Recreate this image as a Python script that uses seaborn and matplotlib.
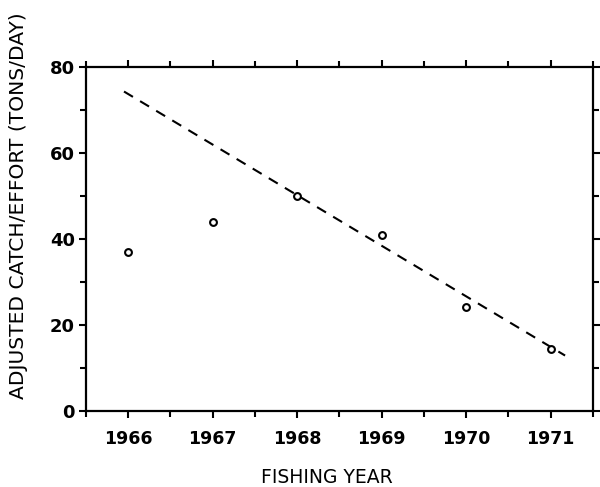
import matplotlib
matplotlib.use("Agg")
import matplotlib.pyplot as plt
import seaborn as sns
import pandas as pd
from matplotlib.ticker import MultipleLocator

years = [1966, 1967, 1968, 1969, 1970, 1971]
catch_effort = [37, 44, 50, 41, 24.3, 14.5]
trend_years = [1965.95, 1971.17]
trend_values = [74.3, 12.9]
year_labels = ["1966", "1967", "1968", "1969", "1970", "1971"]

sns.set_style("ticks")
plt.rcParams['font.family'] = ['DejaVu Sans']

df = pd.DataFrame({"year": years, "ce": catch_effort})
tr = pd.DataFrame({"year": trend_years, "ce": trend_values})

fig = plt.figure(figsize=(6, 4.87), dpi=100)
ax = fig.add_axes([0.1433, 0.156, 0.845, 0.7064])

sns.lineplot(data=tr, x="year", y="ce", ax=ax, color="black", lw=1.5,
             linestyle=(0, (5, 4)))
sns.scatterplot(data=df, x="year", y="ce", ax=ax, marker="o", s=24,
                facecolor="white", edgecolor="black", linewidth=1.5, zorder=3)

ax.set_xlim(1965.5, 1971.5)
ax.set_ylim(0, 80)
ax.set_xticks(years)
ax.set_xticklabels(year_labels)
ax.xaxis.set_minor_locator(MultipleLocator(0.5))
ax.set_yticks([0, 20, 40, 60, 80])
ax.yaxis.set_minor_locator(MultipleLocator(10))

for s in ax.spines.values():
    s.set_linewidth(1.6)
    s.set_color("black")

ax.tick_params(which="both", direction="out", width=1.5, colors="black",
               top=True, right=True, labelsize=13)
ax.tick_params(axis="x", labelsize=12.5)
ax.tick_params(which="major", length=5)
ax.tick_params(which="minor", length=4)
ax.tick_params(axis="x", pad=9)
ax.tick_params(axis="y", pad=3)
for lab in ax.get_xticklabels() + ax.get_yticklabels():
    lab.set_fontweight("bold")

ax.set_xlabel("FISHING YEAR", fontsize=13.5, fontweight="normal",
              color="black")
ax.xaxis.set_label_coords(0.475, -0.165)
ax.set_ylabel("ADJUSTED CATCH/EFFORT (TONS/DAY)", fontsize=14.6,
              fontweight="normal", color="black")
ax.yaxis.set_label_coords(-0.114, 0.596)

fig.savefig("out.png", dpi=100)
